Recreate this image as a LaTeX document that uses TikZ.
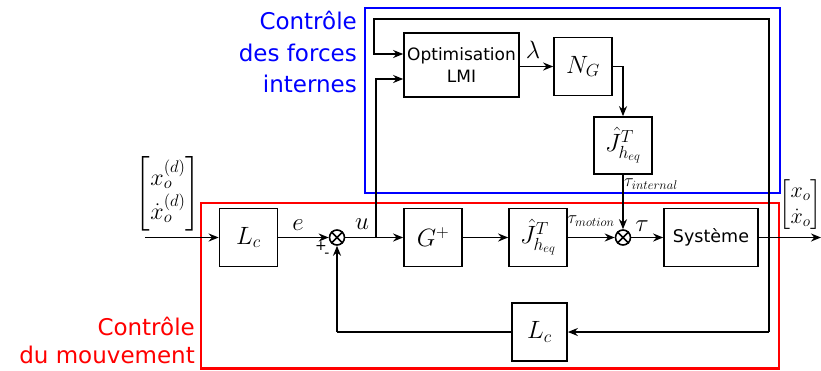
\RequirePackage{fix-cm}
\documentclass[tikz,border=0pt]{standalone}
\usepackage{amsmath}
\usepackage{fontspec}
\setsansfont{DejaVu Sans}
\usetikzlibrary{arrows.meta}
\tikzset{
  ln/.style={line width=1.7pt},
  arr/.style={ln, -{Stealth[length=10pt,width=8pt]}},
  blk/.style={draw, line width=1.7pt, minimum width=58pt, minimum height=58pt, inner sep=0pt, font=\fontsize{25}{30}\selectfont},
  sumc/.style={draw, circle, minimum size=15pt, inner sep=0pt, line width=1.6pt},
  lab/.style={inner sep=0pt, font=\fontsize{25}{30}\selectfont},
  slab/.style={inner sep=0pt, font=\fontsize{18}{20}\selectfont},
  bluetxt/.style={inner sep=0pt, anchor=base east, text=blue, font=\sffamily\fontsize{23}{28}\selectfont},
  redtxt/.style={inner sep=0pt, anchor=base east, text=red, font=\sffamily\fontsize{23}{28}\selectfont},
}
\begin{document}
\begin{tikzpicture}[x=1pt,y=-1pt]
\useasboundingbox (0,0) rectangle (821,370);
% frames
\draw[blue, line width=2.5pt] (365,8) rectangle (780,193);
\draw[red, line width=2.5pt] (201,203) rectangle (779,368.5);
\node[bluetxt] (b1) at (357,29) {Contrôle};
\node[bluetxt] (b2) at (357,61) {des forces};
\node[bluetxt] (b3) at (357,92) {internes};
\node[redtxt] (r1) at (195,335) {Contrôle};
\node[redtxt] (r2) at (195,363) {du mouvement};
% blocks
\node[blk] (lc1) at (248.5,237.5) {$L_c$};
\node[sumc] (s1) at (337,237.5) {};
\node[blk] (g) at (433,237.5) {$G^+$};
\node[blk] (j1) at (538,237.5) {$\hat{J}^T_{h_{eq}}$};
\node[sumc] (s2) at (623,237.5) {};
\node[blk, minimum width=94pt, font=\sffamily\fontsize{17.5}{21}\selectfont] (sys) at (711,237.5) {Système};
\node[blk, minimum width=55pt] (lc2) at (539.5,332) {$L_c$};
\node[blk, minimum width=115pt, minimum height=64pt, align=center, font=\sffamily\fontsize{17}{22}\selectfont] (opt) at (461.5,65) {Optimisation\\LMI};
\node[blk] (ng) at (583,66.5) {$N_G$};
\node[blk, minimum height=57pt] (j2) at (623,145.5) {$\hat{J}^T_{h_{eq}}$};
\draw[ln] (s1.north west) -- (s1.south east) (s1.north east) -- (s1.south west);
\draw[ln] (s2.north west) -- (s2.south east) (s2.north east) -- (s2.south west);
% coordinates
\coordinate (in) at (145,237.5);
\coordinate (ub) at (376,237.5);
\coordinate (u2) at (376,79);
\coordinate (ob) at (769,237.5);
\coordinate (out) at (821,237.5);
\coordinate (tr) at (769,19);
\coordinate (tl) at (374,19);
\coordinate (tl2) at (374,54);
\coordinate (br) at (769,332);
\coordinate (bl) at (337,332);
% connectors
\draw[arr] (in) -- (lc1);
\draw[arr] (lc1) -- (s1);
\draw[ln] (s1) -- (ub);
\draw[arr] (ub) -- (g);
\draw[arr] (g) -- (j1);
\draw[arr] (j1) -- (s2);
\draw[arr] (s2) -- (sys);
\draw[arr] (sys) -- (out);
\draw[arr] (ub) -- (u2) -- (u2 -| opt.west);
\draw[arr] (ob) -- (tr) -- (tl) -- (tl2) -- (tl2 -| opt.west);
\draw[arr] (opt.east |- ng.west) -- (ng.west);
\draw[arr] (ng.east) -- (ng.east -| j2.north) -- (j2.north);
\draw[arr] (j2.south) -- (s2.north);
\draw[ln] (ob) -- (br);
\draw[arr] (br) -- (lc2.east);
\draw[ln] (lc2.west) -- (bl);
\draw[arr] (bl) -- (s1.south);
% labels
\node[lab] (le) at (298,225) {$e$};
\node[lab] (lu) at (362,224) {$u$};
\node[inner sep=0pt, font=\sffamily\fontsize{14}{14}\selectfont] (lp) at (321,246) {+};
\node[inner sep=0pt, font=\sffamily\fontsize{14}{14}\selectfont] (lm) at (327,255) {-};
\node[lab] (ll) at (533,50) {$\lambda$};
\node[slab] (ltm) at (591,221) {$\tau_{motion}$};
\node[lab] (lt) at (642,226) {$\tau$};
\node[slab, anchor=west] (lti) at (624,184) {$\tau_{internal}$};
\node[inner sep=0pt, font=\fontsize{24}{29}\selectfont] (xin) at (168,194) {$\begin{bmatrix} x_o^{(d)} \\ \dot{x}_o^{(d)}\end{bmatrix}$};
\node[inner sep=0pt, font=\fontsize{22}{26}\selectfont] (xout) at (800.5,205) {$\begin{bmatrix} x_o \\ \dot{x}_o\end{bmatrix}$};
\end{tikzpicture}
\end{document}
